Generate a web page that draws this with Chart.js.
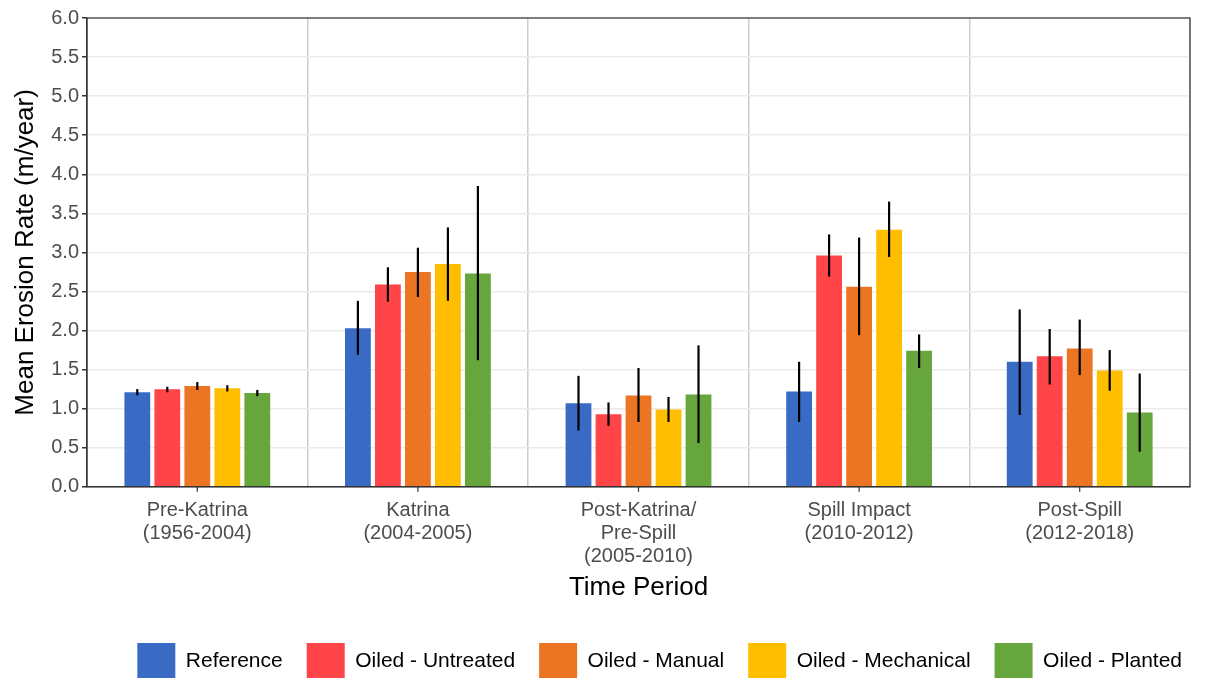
<!DOCTYPE html>
<html lang="en">
<head>
    <meta charset="UTF-8">
    <title>Mean Erosion Rate by Time Period</title>
    <script src="https://cdn.jsdelivr.net/npm/chart.js"></script>
    <style>
        body {
            margin: 0;
            background: #ffffff;
        }
        #wrap {
            width: 1221px;
            height: 678px;
        }
    </style>
</head>
<body>
    <div id="wrap"><canvas id="chart" width="1221" height="678"></canvas></div>

    <script>
        const periods = [
            ['Pre-Katrina', '(1956-2004)'],
            ['Katrina', '(2004-2005)'],
            ['Post-Katrina/', 'Pre-Spill', '(2005-2010)'],
            ['Spill Impact', '(2010-2012)'],
            ['Post-Spill', '(2012-2018)']
        ];
        const seriesNames = ['Reference', 'Oiled - Untreated', 'Oiled - Manual', 'Oiled - Mechanical', 'Oiled - Planted'];
        const seriesColors = ['#3A6BC4', '#FF4548', '#EC7524', '#FFBE00', '#67A63C'];

        // mean rates per series, one value per period
        const referenceMean = [1.21, 2.03, 1.07, 1.22, 1.60];
        const untreatedMean = [1.25, 2.59, 0.93, 2.96, 1.67];
        const manualMean = [1.29, 2.75, 1.17, 2.56, 1.77];
        const mechanicalMean = [1.26, 2.85, 0.99, 3.29, 1.49];
        const plantedMean = [1.20, 2.73, 1.18, 1.74, 0.95];

        // error bar ends
        const referenceLow = [1.17, 1.69, 0.72, 0.83, 0.92];
        const referenceHigh = [1.25, 2.38, 1.42, 1.60, 2.27];
        const untreatedLow = [1.21, 2.37, 0.78, 2.69, 1.31];
        const untreatedHigh = [1.28, 2.81, 1.08, 3.23, 2.02];
        const manualLow = [1.24, 2.43, 0.83, 1.94, 1.43];
        const manualHigh = [1.34, 3.06, 1.52, 3.19, 2.14];
        const mechanicalLow = [1.22, 2.38, 0.83, 2.94, 1.23];
        const mechanicalHigh = [1.30, 3.32, 1.15, 3.65, 1.75];
        const plantedLow = [1.16, 1.62, 0.56, 1.52, 0.45];
        const plantedHigh = [1.24, 3.85, 1.81, 1.95, 1.45];

        const yTicks = [0, 0.5, 1, 1.5, 2, 2.5, 3, 3.5, 4, 4.5, 5, 5.5, 6];

        const means = [referenceMean, untreatedMean, manualMean, mechanicalMean, plantedMean];
        const lows = [referenceLow, untreatedLow, manualLow, mechanicalLow, plantedLow];
        const highs = [referenceHigh, untreatedHigh, manualHigh, mechanicalHigh, plantedHigh];

        const FONT = "'Liberation Sans', Arial, sans-serif";

        // panel border, x tick marks at category centres, error bars
        const extras = {
            id: 'extras',
            afterLayout(chart) {
                // nudge the legend a bit to the right, like the original
                chart.legend.left += 16;
                chart.legend.right += 16;
            },
            afterDatasetsDraw(chart) {
                const c = chart.ctx;
                const y = chart.scales.y;
                c.save();
                c.strokeStyle = '#000';
                c.lineWidth = 2.2;
                chart.data.datasets.forEach((ds, i) => {
                    const meta = chart.getDatasetMeta(i);
                    meta.data.forEach((bar, j) => {
                        c.beginPath();
                        c.moveTo(bar.x, y.getPixelForValue(lows[i][j]));
                        c.lineTo(bar.x, y.getPixelForValue(highs[i][j]));
                        c.stroke();
                    });
                });
                c.restore();
            },
            afterDraw(chart) {
                const c = chart.ctx;
                const a = chart.chartArea;
                const x = chart.scales.x;
                c.save();
                c.strokeStyle = '#333';
                c.lineWidth = 1.2;
                c.strokeRect(a.left, a.top, a.right - a.left, a.bottom - a.top);
                periods.forEach((p, i) => {
                    const px = x.getPixelForValue(i);
                    c.beginPath();
                    c.moveTo(px, a.bottom);
                    c.lineTo(px, a.bottom + 5);
                    c.stroke();
                });
                c.restore();
            }
        };

        new Chart(document.getElementById('chart').getContext('2d'), {
            type: 'bar',
            data: {
                labels: periods,
                datasets: seriesNames.map((name, i) => ({
                    label: name,
                    data: means[i],
                    backgroundColor: seriesColors[i],
                    borderWidth: 0,
                    categoryPercentage: 0.68,
                    barPercentage: 0.86
                }))
            },
            options: {
                responsive: false,
                animation: false,
                layout: {
                    padding: { left: 10, right: 31, top: 18, bottom: -11 }
                },
                scales: {
                    x: {
                        grid: {
                            color: '#cccccc',
                            lineWidth: 1.5,
                            drawTicks: false,
                            offset: true
                        },
                        border: { color: '#333', width: 1.2 },
                        ticks: {
                            color: '#4d4d4d',
                            font: { family: FONT, size: 20, lineHeight: 1.15 },
                            padding: 12,
                            maxRotation: 0,
                            autoSkip: false
                        },
                        title: {
                            display: true,
                            text: 'Time Period',
                            color: '#000',
                            font: { family: FONT, size: 26 },
                            padding: { top: -8, bottom: 16 }
                        }
                    },
                    y: {
                        min: 0,
                        max: 6,
                        afterBuildTicks(axis) {
                            axis.ticks = yTicks.map(v => ({ value: v }));
                        },
                        grid: {
                            color: '#ebebeb',
                            lineWidth: 1.5,
                            tickColor: '#333',
                            tickLength: 5
                        },
                        border: { color: '#333', width: 1.2 },
                        ticks: {
                            color: '#4d4d4d',
                            font: { family: FONT, size: 20 },
                            padding: 3,
                            callback: v => Number(v).toFixed(1)
                        },
                        title: {
                            display: true,
                            text: 'Mean Erosion Rate (m/year)',
                            color: '#000',
                            font: { family: FONT, size: 26 },
                            padding: { top: 0, bottom: 7 }
                        }
                    }
                },
                plugins: {
                    legend: {
                        position: 'bottom',
                        align: 'end',
                        labels: {
                            color: '#000',
                            font: { family: FONT, size: 21 },
                            boxWidth: 38,
                            boxHeight: 36,
                            padding: 24
                        }
                    },
                    tooltip: { enabled: false }
                }
            },
            plugins: [extras]
        });
    </script>
</body>
</html>
